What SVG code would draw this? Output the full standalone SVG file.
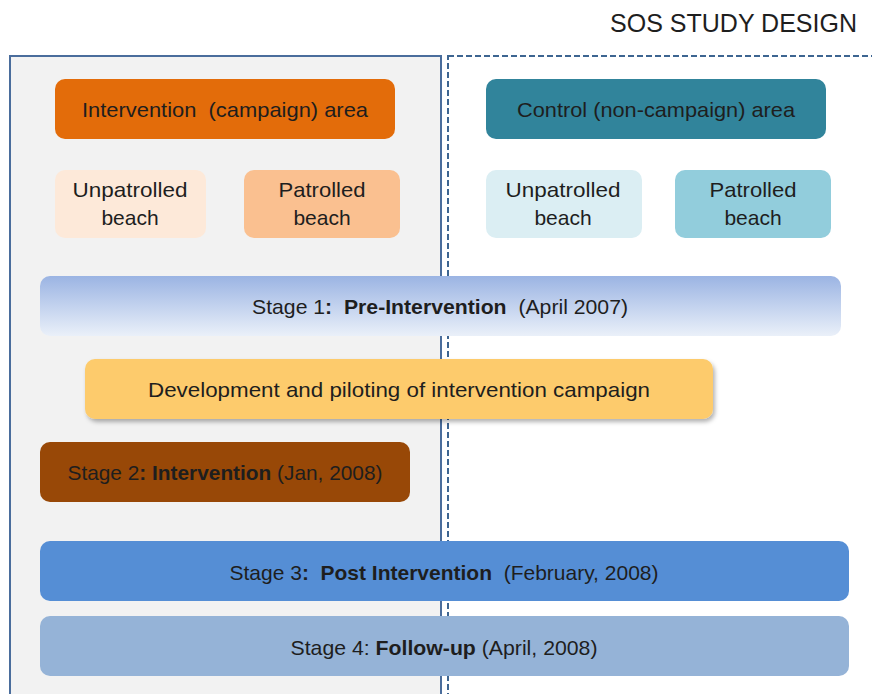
<svg xmlns="http://www.w3.org/2000/svg" width="872" height="694" viewBox="0 0 872 694">
<defs>
<linearGradient id="g1" x1="0" y1="0" x2="0" y2="1">
<stop offset="0" stop-color="#9bb4e3"/>
<stop offset="1" stop-color="#eaf0f9"/>
</linearGradient>
<filter id="sh" x="-5%" y="-20%" width="110%" height="150%">
<feDropShadow dx="2" dy="3" stdDeviation="2" flood-color="#000" flood-opacity="0.3"/>
</filter>
<style>
text{font-family:"Liberation Sans","Open Sans",sans-serif;fill:#1e1e1e;text-anchor:middle;white-space:pre}
.t{font-size:21px}
.s{font-size:21px}
.b{font-weight:bold}
</style>
</defs>
<rect width="872" height="694" fill="#ffffff"/>
<text x="857" y="32" style="font-size:26px;text-anchor:end" textLength="247" lengthAdjust="spacingAndGlyphs">SOS STUDY DESIGN</text>
<g id="panels">
<rect id="left-panel" x="10" y="56" width="431" height="660" fill="#f2f2f2" stroke="#4a6d9c" stroke-width="2"/>
<rect id="right-panel" x="448" y="56" width="440" height="660" fill="none" stroke="#3d6591" stroke-width="2" stroke-dasharray="6,3"/>
</g>
<g id="intervention-area"><rect x="55" y="79" width="340" height="60" rx="10" fill="#e36c0a"/><text class="t" x="225" y="117" textLength="286" lengthAdjust="spacingAndGlyphs">Intervention  (campaign) area</text></g>
<g id="int-unpatrolled"><rect x="55" y="170" width="151" height="68" rx="10" fill="#fde9d9"/><text class="t" x="130" y="197" textLength="115" lengthAdjust="spacingAndGlyphs">Unpatrolled</text><text class="t" x="130" y="225">beach</text></g>
<g id="int-patrolled"><rect x="244" y="170" width="156" height="68" rx="10" fill="#fac090"/><text class="t" x="322" y="197" textLength="87" lengthAdjust="spacingAndGlyphs">Patrolled</text><text class="t" x="322" y="225">beach</text></g>
<g id="control-area"><rect x="486" y="79" width="340" height="60" rx="10" fill="#31849b"/><text class="t" x="656" y="117" textLength="278" lengthAdjust="spacingAndGlyphs">Control (non-campaign) area</text></g>
<g id="ctl-unpatrolled"><rect x="486" y="170" width="156" height="68" rx="10" fill="#dbeef3"/><text class="t" x="563" y="197" textLength="115" lengthAdjust="spacingAndGlyphs">Unpatrolled</text><text class="t" x="563" y="225">beach</text></g>
<g id="ctl-patrolled"><rect x="675" y="170" width="156" height="68" rx="10" fill="#92cddc"/><text class="t" x="753" y="197" textLength="87" lengthAdjust="spacingAndGlyphs">Patrolled</text><text class="t" x="753" y="225">beach</text></g>
<g id="stage1"><rect x="40" y="276" width="801" height="60" rx="10" fill="url(#g1)"/><text class="s" x="440" y="314" textLength="376" lengthAdjust="spacingAndGlyphs">Stage 1<tspan class="b">:  Pre-Intervention</tspan>  (April 2007)</text></g>
<g id="development"><rect x="85" y="359" width="628" height="60" rx="10" fill="#fdcb6c" filter="url(#sh)"/><text class="s" x="399" y="397" textLength="502" lengthAdjust="spacingAndGlyphs">Development and piloting of intervention campaign</text></g>
<g id="stage2"><rect x="40" y="442" width="370" height="60" rx="10" fill="#984807"/><text class="s" x="225" y="480" textLength="315" lengthAdjust="spacingAndGlyphs">Stage 2<tspan class="b">: Intervention</tspan> (Jan, 2008)</text></g>
<g id="stage3"><rect x="40" y="541" width="809" height="60" rx="10" fill="#558ed5"/><text class="s" x="444" y="580" textLength="429" lengthAdjust="spacingAndGlyphs">Stage 3<tspan class="b">:  Post Intervention</tspan>  (February, 2008)</text></g>
<g id="stage4"><rect x="40" y="616" width="809" height="60" rx="10" fill="#95b3d7"/><text class="s" x="444" y="655" textLength="307" lengthAdjust="spacingAndGlyphs">Stage 4: <tspan class="b">Follow-up</tspan> (April, 2008)</text></g>
<g id="connectors"></g>
</svg>
